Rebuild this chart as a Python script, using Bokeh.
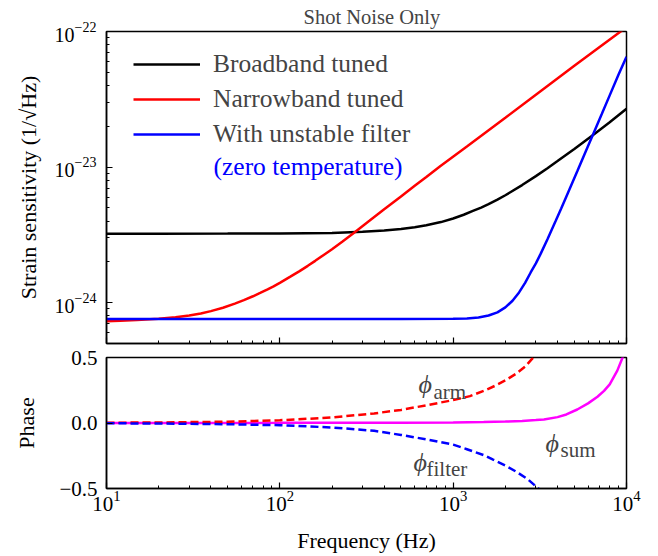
import numpy as np
from bokeh.plotting import figure
from bokeh.models import (Legend, LegendItem, Label, FixedTicker,
                          CustomJSTickFormatter, Range1d)
from bokeh.layouts import column
from bokeh.embed import file_html
from bokeh.resources import INLINE

FONT = "Liberation Serif"
SCALE = 1e-24  # strain values below are in units of 1e-24 / sqrt(Hz)

# ---- top panel: strain sensitivity ----
freq_broadband = [10, 20, 50, 100, 200, 300, 400, 500, 600, 700, 850, 1000, 1150,
                  1300, 1450, 1600, 1800, 2000, 2500, 3000, 3500, 4000, 5000,
                  6500, 8000, 10000]
strain_broadband = [3.23, 3.23, 3.234, 3.24, 3.27, 3.33, 3.40, 3.49, 3.60, 3.72,
                    3.93, 4.18, 4.45, 4.75, 5.03, 5.33, 5.75, 6.2, 7.37, 8.58,
                    9.8, 11.07, 13.6, 17.5, 21.4, 26.9]

freq_narrowband = [10, 12, 15, 20, 25, 30, 35, 40, 47, 55, 62, 70, 77, 85, 92,
                   100, 115, 130, 145, 160, 180, 200, 230, 267, 330, 400, 500,
                   600, 700, 845, 1200, 2000, 3000, 5000, 7000, 9250, 10000]
strain_narrowband = [0.731, 0.736, 0.744, 0.760, 0.780, 0.805, 0.833, 0.866,
                     0.918, 0.985, 1.045, 1.115, 1.18, 1.255, 1.32, 1.40, 1.555,
                     1.71, 1.87, 2.035, 2.26, 2.48, 2.83, 3.27, 4.03, 4.88, 6.08,
                     7.28, 8.45, 10.2, 14.2, 23.1, 34.2, 55.8, 76.8, 100, 108]

freq_unstable = [10, 100, 500, 1000, 1200, 1400, 1600, 1800, 2000, 2200, 2400,
                 2600, 2800, 3000, 3200, 3500, 3900, 4200, 4500, 5200, 6000, 6420,
                 7200, 8000, 9000, 10000]
strain_unstable = [0.757, 0.757, 0.757, 0.760, 0.766, 0.778, 0.804, 0.849, 0.923,
                   1.034, 1.19, 1.40, 1.67, 1.95, 2.3, 2.94, 4.0, 4.95, 6.07, 9.32,
                   14.3, 17.5, 24.6, 33.8, 48.1, 65]

series_names = ["Broadband tuned", "Narrowband tuned", "With unstable filter"]
legend_note = "(zero temperature)"

# ---- bottom panel: phases ----
freq_arm = [10, 20, 50, 100, 200, 350, 500, 700, 1000, 1250, 1500, 1750, 2000,
            2300, 2600, 2900, 3100]
phase_arm = [0.002, 0.004, 0.010, 0.021, 0.042, 0.073, 0.10, 0.135, 0.175, 0.205,
             0.245, 0.285, 0.325, 0.375, 0.43, 0.50, 0.55]
freq_filter = [10, 20, 50, 100, 200, 350, 500, 700, 1000, 1200, 1500, 1700, 2000,
               2300, 2700, 3100, 3300]
phase_filter = [-0.002, -0.004, -0.009, -0.017, -0.034, -0.06, -0.091, -0.125,
                -0.165, -0.2, -0.245, -0.28, -0.325, -0.37, -0.43, -0.50, -0.535]
freq_sum = [10, 100, 500, 1000, 1500, 2000, 2500, 3000, 3340, 4000, 4500, 5200,
            6000, 6800, 7420, 8000, 8850, 9520, 10000]
phase_sum = [0.0, 0.001, 0.002, 0.004, 0.007, 0.011, 0.016, 0.022, 0.026, 0.045,
             0.065, 0.103, 0.15, 0.2, 0.245, 0.295, 0.40, 0.504, 0.58]

x_range = Range1d(10, 1e4)


def style_axes(p):
    p.grid.visible = False
    p.outline_line_color = "black"
    p.outline_line_width = 1.5
    p.outline_line_alpha = 1.0
    for ax in list(p.xaxis) + list(p.yaxis):
        ax.major_tick_in = 6
        ax.major_tick_out = 0
        ax.minor_tick_in = 3
        ax.minor_tick_out = 0
        ax.axis_line_width = 1.5
        ax.axis_line_color = "black"
        ax.major_tick_line_color = "black"
        ax.minor_tick_line_color = "black"
        ax.major_tick_line_width = 1.2
        ax.minor_tick_line_width = 1.0
        ax.major_label_text_font = FONT
        ax.major_label_text_font_size = "21px"
        ax.major_label_text_color = "black"
        ax.axis_label_text_font = FONT
        ax.axis_label_text_font_size = "22px"
        ax.axis_label_text_font_style = "normal"
        ax.axis_label_text_color = "black"


# ================= top figure =================
p1 = figure(frame_width=520, frame_height=312, x_axis_type="log", y_axis_type="log",
            x_range=x_range, y_range=Range1d(5e-25, 1e-22),
            output_backend="svg", toolbar_location=None,
            min_border_left=106, min_border_right=30, min_border_top=30,
            min_border_bottom=2)
style_axes(p1)
p1.title.text = "Shot Noise Only"
p1.title.align = "left"
p1.title.text_font = FONT
p1.title.text_font_size = "20.5px"
p1.title.text_font_style = "normal"
p1.title.standoff = 7
p1.title.offset = 197

p1.xaxis.formatter = CustomJSTickFormatter(code="return '';")
p1.xaxis.major_label_text_font_size = "1px"
p1.xaxis.major_label_standoff = 0
p1.yaxis.major_label_text_font_size = "20px"
p1.yaxis.axis_label = "Strain sensitivity (1/\u221aHz)"
p1.yaxis.major_label_standoff = 10
p1.yaxis.axis_label_standoff = 11

sb = np.array(strain_broadband) * SCALE
sn = np.array(strain_narrowband) * SCALE
su = np.array(strain_unstable) * SCALE
r_bb = p1.line(freq_broadband, sb, line_color="black", line_width=2.5)
r_nb = p1.line(freq_narrowband, sn, line_color="red", line_width=2.5)
r_un = p1.line(freq_unstable, su, line_color="blue", line_width=2.5)

legend = Legend(items=[LegendItem(label=series_names[0], renderers=[r_bb]),
                       LegendItem(label=series_names[1], renderers=[r_nb]),
                       LegendItem(label=series_names[2], renderers=[r_un])],
                location=(27, 193), padding=0, margin=0, spacing=3,
                glyph_width=67, glyph_height=32, label_height=32,
                label_standoff=13, label_text_font=FONT,
                label_text_font_size="25.5px", border_line_color=None,
                background_fill_alpha=0)
p1.add_layout(legend)
p1.add_layout(Label(x=107, y=177, x_units="screen", y_units="screen",
                    text=legend_note, text_color="blue", text_font=FONT,
                    text_font_size="25.5px", text_baseline="middle"))

# ================= bottom figure =================
p2 = figure(frame_width=520, frame_height=131, x_axis_type="log",
            x_range=x_range, y_range=Range1d(-0.5, 0.5),
            output_backend="svg", toolbar_location=None,
            min_border_left=106, min_border_right=30, min_border_top=12,
            min_border_bottom=0)
style_axes(p2)
p2.yaxis.ticker = FixedTicker(ticks=[-0.5, 0.0, 0.5], minor_ticks=[])
p2.yaxis.formatter = CustomJSTickFormatter(
    code="return (tick < 0 ? '\\u2212' : '') + Math.abs(tick).toFixed(1);")
p2.yaxis.axis_label = "Phase"
p2.yaxis.major_label_standoff = 9
p2.yaxis.axis_label_standoff = 17
p2.xaxis.axis_label = "Frequency (Hz)"
p2.xaxis.major_label_standoff = 2
p2.xaxis.axis_label_standoff = 14

p2.line(freq_sum, phase_sum, line_color="#ff00ff", line_width=2.5)
p2.line(freq_arm, phase_arm, line_color="red", line_width=2.5, line_dash="8 4")
p2.line(freq_filter, phase_filter, line_color="blue", line_width=2.5, line_dash="8 4")

phi = "\u03d5"
phase_labels = [("arm", 312, 104, 327, 97),
                ("filter", 307, 26, 320, 20),
                ("sum", 439, 45, 454, 39)]
for sub, px, py, sx, sy in phase_labels:
    p2.add_layout(Label(x=px, y=py, x_units="screen", y_units="screen", text=phi,
                        text_font=FONT, text_font_size="26px",
                        text_font_style="italic", text_baseline="alphabetic"))
    p2.add_layout(Label(x=sx, y=sy, x_units="screen", y_units="screen", text=sub,
                        text_font=FONT, text_font_size="21px",
                        text_baseline="alphabetic"))

layout = column(p1, p2)
open("out.html", "w").write(file_html(layout, INLINE))
